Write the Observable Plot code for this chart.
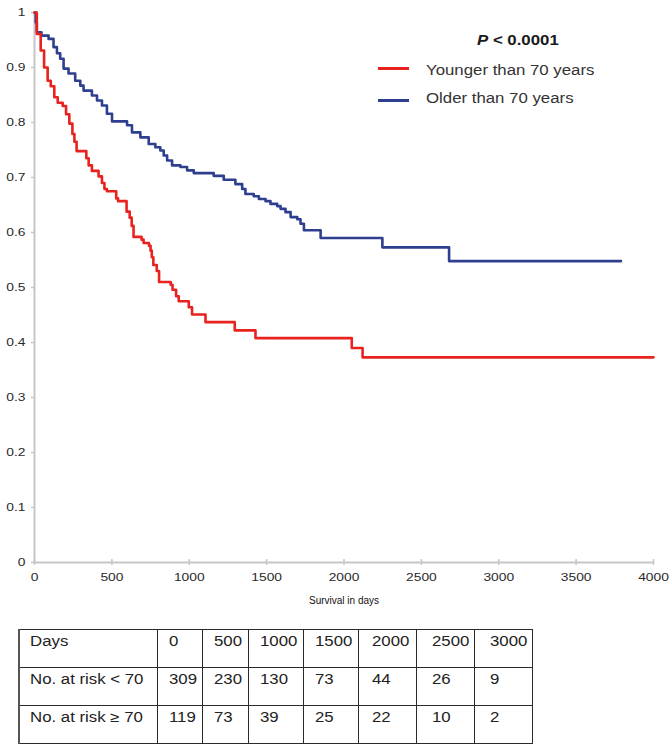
<!DOCTYPE html>
<html>
<head>
<meta charset="utf-8">
<script src="https://cdn.jsdelivr.net/npm/d3@7"></script>
<script src="https://cdn.jsdelivr.net/npm/@observablehq/plot@0.6"></script>
<style>
  body { margin: 0; background: #fff; font-family: "Liberation Sans", Arial, sans-serif; }
  #wrap { position: relative; width: 670px; height: 746px; overflow: hidden; background: #fff; }
  #chart { position: absolute; left: 0; top: 0; }
  .sx { display: inline-block; transform: scaleX(1.2); transform-origin: 0 0; white-space: nowrap; }
  .lg-text { position: absolute; font-size: 14px; line-height: 14px; color: #333; }
  .lg-line { position: absolute; height: 3px; width: 31px; }
  #risk { position: absolute; left: 18px; top: 629px; border-collapse: collapse; table-layout: fixed; }
  #risk td { border: 1.5px solid #2a2a2a; height: 38px; padding: 3px 0 0 11px; vertical-align: top;
             font-size: 14px; line-height: 16px; color: #222; overflow: visible; white-space: nowrap; box-sizing: border-box; }
  #risk tr:first-child td { border-bottom: 2.5px solid #9a9a9a; }
  #risk td:first-child { padding-left: 10px; border-left: 2px solid #555; }
  #risk td:nth-child(6) { padding-left: 13px; }
  #risk td:nth-child(7), #risk td:nth-child(8) { padding-left: 15px; }
  #risk td:nth-child(9) { padding-left: 16px; }
</style>
</head>
<body>
<div id="wrap"><div id="chart"></div></div>
<script>
// ---------- data ----------
const xTicks = [0, 500, 1000, 1500, 2000, 2500, 3000, 3500, 4000];
const yTicks = [0, 0.1, 0.2, 0.3, 0.4, 0.5, 0.6, 0.7, 0.8, 0.9, 1];

const youngerDays = [0, 15, 40, 62, 85, 105, 128, 150, 182, 204, 225, 245, 258, 272, 335, 350, 371, 414, 436, 452, 468, 528, 540, 595, 615, 628, 640, 692, 705, 740, 750, 758, 768, 790, 805, 880, 892, 915, 932, 997, 1018, 1105, 1294, 1428, 2050, 2120, 4000];
const youngerSurv = [1, 0.961, 0.931, 0.900, 0.876, 0.866, 0.846, 0.836, 0.830, 0.815, 0.798, 0.779, 0.765, 0.748, 0.735, 0.722, 0.712, 0.702, 0.690, 0.679, 0.675, 0.662, 0.657, 0.638, 0.627, 0.612, 0.592, 0.587, 0.581, 0.576, 0.567, 0.555, 0.541, 0.530, 0.510, 0.505, 0.496, 0.484, 0.475, 0.464, 0.451, 0.437, 0.422, 0.408, 0.390, 0.373, 0.373];

const olderDays = [0, 8, 15, 45, 91, 123, 145, 166, 188, 220, 263, 296, 317, 371, 404, 436, 468, 501, 598, 630, 684, 738, 781, 813, 835, 857, 889, 943, 986, 1029, 1158, 1223, 1298, 1342, 1363, 1417, 1450, 1493, 1525, 1568, 1590, 1622, 1655, 1698, 1719, 1741, 1849, 2248, 2679, 3790];
const olderSurv = [1, 0.982, 0.964, 0.958, 0.952, 0.937, 0.926, 0.916, 0.898, 0.889, 0.876, 0.867, 0.858, 0.849, 0.840, 0.831, 0.816, 0.802, 0.795, 0.782, 0.773, 0.761, 0.755, 0.749, 0.740, 0.731, 0.722, 0.719, 0.713, 0.708, 0.703, 0.696, 0.688, 0.679, 0.670, 0.666, 0.661, 0.657, 0.652, 0.648, 0.643, 0.637, 0.628, 0.624, 0.616, 0.604, 0.590, 0.573, 0.548, 0.548];

const seriesNames = ["Younger than 70 years", "Older than 70 years"];
const seriesColors = ["#e8231f", "#2f3f8f"];
const pValueText = "< 0.0001";
const xLabel = "Survival in days";

const tableDays = [0, 500, 1000, 1500, 2000, 2500, 3000];
const riskYounger = [309, 230, 130, 73, 44, 26, 9];
const riskOlder = [119, 73, 39, 25, 22, 10, 2];
const rowLabels = ["Days", "No. at risk < 70", "No. at risk \u2265 70"];

// ---------- chart ----------
const younger = youngerDays.map((t, i) => ({t, s: youngerSurv[i]}));
const older = olderDays.map((t, i) => ({t, s: olderSurv[i]}));
const axisGray = "#c6c6c6";

const chart = Plot.plot({
  width: 670,
  height: 615,
  marginLeft: 34,
  marginRight: 17,
  marginTop: 12,
  marginBottom: 53,
  x: {domain: [0, 4000], label: null},
  y: {domain: [0, 1], label: null},
  style: {fontFamily: "'Liberation Sans', Arial, sans-serif", fontSize: "11.5px", color: "#2a2a2a", background: "#fff"},
  marks: [
    Plot.ruleY([0], {stroke: axisGray, strokeWidth: 2}),
    Plot.ruleX([0], {stroke: axisGray, strokeWidth: 2}),
    Plot.axisX({ticks: xTicks, tickSize: 6, dy: -3, tickFormat: () => "", stroke: axisGray, strokeWidth: 1.5, label: null}),
    Plot.axisX({ticks: xTicks, tickSize: 0, tickPadding: 10, tickFormat: d => String(d), label: null, fill: "#2a2a2a"}),
    Plot.axisY({ticks: yTicks, tickSize: 4, dx: 1, tickFormat: () => "", stroke: axisGray, strokeWidth: 1.5, label: null}),
    Plot.axisY({ticks: yTicks, tickSize: 0, tickPadding: 9, tickFormat: d => String(d), label: null, fill: "#2a2a2a"}),
    Plot.line(older, {x: "t", y: "s", curve: "step-after", stroke: seriesColors[1], strokeWidth: 2.6}),
    Plot.line(younger, {x: "t", y: "s", curve: "step-after", stroke: seriesColors[0], strokeWidth: 2.6}),
    Plot.text([xLabel], {frameAnchor: "bottom", dy: 41, fontSize: 10, fill: "#111", ariaLabel: "xlabel"})
  ]
});

const wrap = document.getElementById("wrap");
document.getElementById("chart").appendChild(chart);

// horizontally stretch the SVG text like the reference (positions untouched)
function stretch(sel, k) {
  chart.querySelectorAll(sel).forEach(t => {
    const w = t.getComputedTextLength();
    if (w > 0) {
      t.setAttribute("textLength", (w * k).toFixed(2));
      t.setAttribute("lengthAdjust", "spacingAndGlyphs");
    }
  });
}
stretch('g[aria-label="x-axis tick label"] text', 1.2);
stretch('g[aria-label="y-axis tick label"] text', 1.2);
stretch('g[aria-label="xlabel"] text', 1.2);

// ---------- legend ----------
function addText(html, left, top, extra) {
  const d = document.createElement("div");
  d.className = "lg-text";
  d.style.left = left + "px";
  d.style.top = top + "px";
  if (extra) Object.assign(d.style, extra);
  d.innerHTML = `<span class="sx">${html}</span>`;
  wrap.appendChild(d);
}
addText(`<i>P</i> ${pValueText}`, 477, 33, {fontWeight: "bold", color: "#1a1a1a"});
seriesNames.forEach((name, i) => {
  const ln = document.createElement("div");
  ln.className = "lg-line";
  ln.style.left = "378px";
  ln.style.top = (i === 0 ? 66.5 : 99) + "px";
  ln.style.background = seriesColors[i];
  wrap.appendChild(ln);
  addText(name, 426, i === 0 ? 63 : 91);
});

// ---------- at-risk table ----------
const colW = [138, 45, 46, 55, 55, 58, 58, 58];
const table = document.createElement("table");
table.id = "risk";
const cg = document.createElement("colgroup");
colW.forEach(w => { const c = document.createElement("col"); c.style.width = w + "px"; cg.appendChild(c); });
table.appendChild(cg);
const rows = [tableDays, riskYounger, riskOlder];
rows.forEach((vals, r) => {
  const tr = document.createElement("tr");
  [rowLabels[r], ...vals].forEach(v => {
    const td = document.createElement("td");
    td.innerHTML = `<span class="sx">${v}</span>`;
    tr.appendChild(td);
  });
  table.appendChild(tr);
});
wrap.appendChild(table);
</script>
</body>
</html>
